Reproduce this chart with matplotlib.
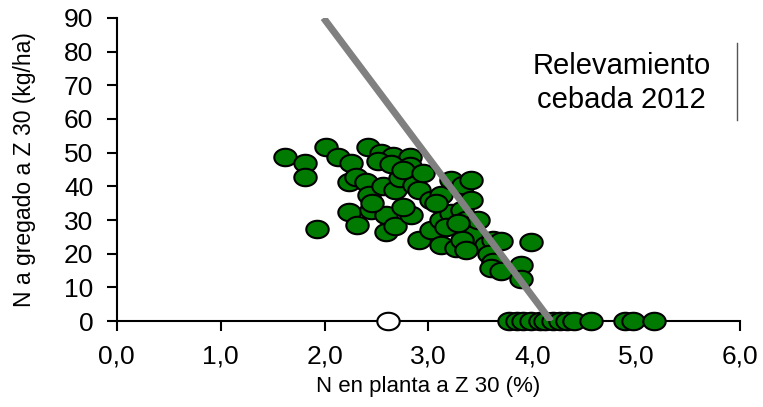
import numpy as np
import matplotlib.pyplot as plt
from matplotlib.path import Path
from matplotlib.lines import Line2D

plt.rcParams['font.family'] = ['Liberation Sans', 'DejaVu Sans']

# N en planta (%) y N agregado (kg/ha) a Z30, relevamiento cebada 2012
n_planta = [1.62, 1.81, 1.81, 1.93, 2.01, 2.13, 2.25, 2.42, 2.54, 2.66,
            2.82, 2.82, 2.24, 2.30, 2.40, 2.43, 2.24, 2.31, 2.45, 2.59,
            2.56, 2.68, 2.73, 2.86, 2.91, 2.59, 2.68, 2.83, 2.91, 3.02,
            3.02, 3.12, 3.12, 3.12, 3.22, 3.33, 3.41, 3.22, 3.32, 3.36,
            3.41, 3.41, 3.27, 3.55, 3.62, 3.70, 3.58, 3.62, 3.60, 3.70,
            3.89, 3.89, 3.99, 3.32, 3.36, 2.51, 2.64, 2.76, 2.95, 3.07,
            3.17, 3.48, 2.46, 2.76, 3.28]
n_agregado = [48.7, 47.0, 42.8, 27.3, 51.7, 48.7, 47.0, 51.7, 50.0, 49.0,
              48.7, 46.0, 41.3, 42.8, 41.3, 37.4, 32.4, 28.5, 33.0, 31.5,
              40.0, 38.9, 42.5, 40.4, 38.9, 26.4, 28.2, 31.5, 24.0, 27.0,
              36.0, 37.4, 30.0, 22.6, 41.9, 40.4, 41.9, 32.0, 33.0, 30.0,
              36.0, 25.5, 21.7, 22.6, 24.0, 23.8, 20.0, 17.5, 15.7, 15.0,
              16.6, 12.5, 23.5, 24.0, 21.0, 47.5, 46.5, 45.0, 44.0, 35.0,
              28.0, 30.0, 35.0, 34.0, 29.0]

# parcelas sin N agregado
n_planta_cero = [3.78, 3.85, 3.91, 3.99, 4.07, 4.12, 4.20, 4.27, 4.33,
                 4.40, 4.56, 4.89, 4.97, 5.17]
n_agregado_cero = [0] * len(n_planta_cero)

# punto excluido (blanco)
n_planta_excl = [2.61]
n_agregado_excl = [0]

# recta de dilucion
recta_x = [1.99, 4.18]
recta_y = [90, 0]

# elliptical marker, wider than tall
theta = np.linspace(0, 2 * np.pi, 60)
ellipse = Path(np.column_stack([np.cos(theta), 0.78 * np.sin(theta)]), closed=True)

fig = plt.figure(figsize=(7.63, 4.07), dpi=100)
ax = fig.add_axes([0.153, 0.211, 0.817, 0.745])

style = dict(s=260, marker=ellipse, edgecolor='black', linewidth=1.5,
             zorder=3, clip_on=False)
ax.scatter(n_planta, n_agregado, facecolor='#007A00', **style)
ax.scatter(n_planta_cero, n_agregado_cero, facecolor='#007A00', **style)
ax.scatter(n_planta_excl, n_agregado_excl, facecolor='white', **style)
ax.plot(recta_x, recta_y, color='#808080', linewidth=5, zorder=4,
        solid_capstyle='butt')

ax.set_xlim(0, 6)
ax.set_ylim(0, 90)
ax.set_xticks(np.arange(0, 7, 1))
ax.set_xticklabels([f'{v:.1f}'.replace('.', ',') for v in range(7)])
ax.set_yticks(np.arange(0, 100, 10))

for s in ['top', 'right']:
    ax.spines[s].set_visible(False)
for s in ['left', 'bottom']:
    ax.spines[s].set_linewidth(1.5)

ax.tick_params(axis='both', labelsize=19, width=1.5, length=7, direction='out')
ax.tick_params(axis='x', pad=10)
ax.tick_params(axis='y', pad=10)

ax.set_xlabel('N en planta a Z 30 (%)', fontsize=16)
ax.set_ylabel('N a gregado a Z 30 (kg/ha)', fontsize=16.5)
ax.xaxis.set_label_coords(0.5, -0.18)
ax.yaxis.set_label_coords(-0.13, 0.5)

ax.text(0.81, 0.785, 'Relevamiento\ncebada 2012', transform=ax.transAxes,
        ha='center', va='center', fontsize=21, linespacing=1.3)

# right edge of the label box
fig.add_artist(Line2D([737 / 763, 737 / 763], [1 - 43 / 407, 1 - 120 / 407],
                      color='#555555', linewidth=1.0))

fig.savefig('out.png', dpi=100)
